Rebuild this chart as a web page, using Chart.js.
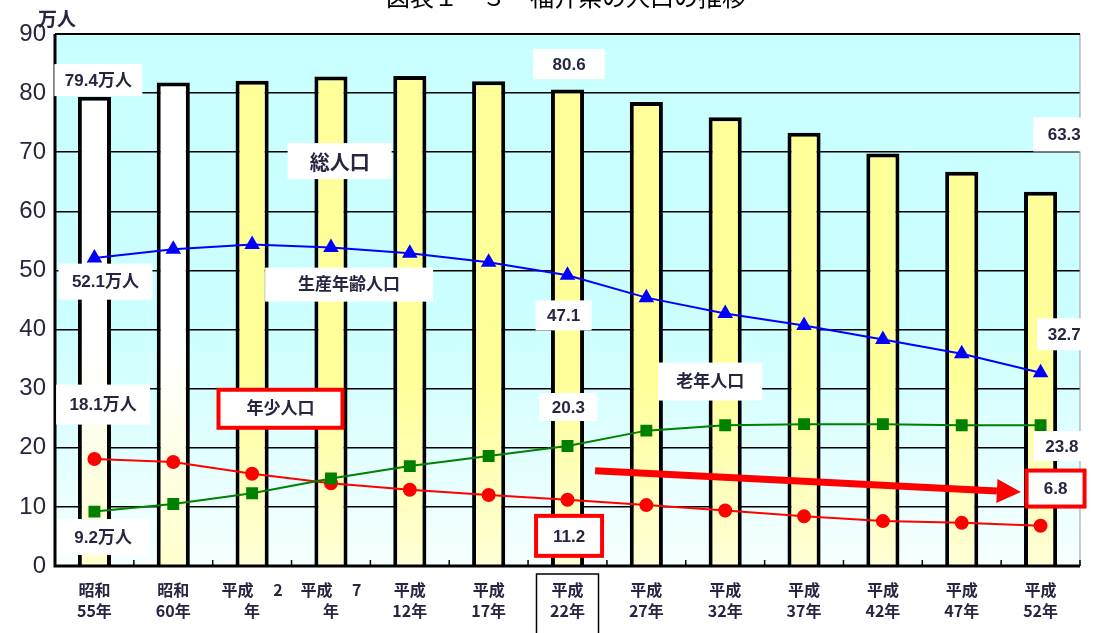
<!DOCTYPE html>
<html>
<head>
<meta charset="utf-8">
<script src="https://cdn.jsdelivr.net/npm/chart.js@4"></script>
<style>
  body { margin: 0; background: #fff; }
  #wrap { width: 1094px; height: 633px; position: relative; }
</style>
</head>
<body>
<div id="wrap"><canvas id="popChart" width="1094" height="633"></canvas></div>
<script>
'use strict';

// Data ********** //
let years = [
  ['昭和', '55年'], ['昭和', '60年'], ['平成　 2', '年'], ['平成　 7', '年'],
  ['平成', '12年'], ['平成', '17年'], ['平成', '22年'], ['平成', '27年'],
  ['平成', '32年'], ['平成', '37年'], ['平成', '42年'], ['平成', '47年'], ['平成', '52年']
];
let totalPop = [79.4, 81.8, 82.1, 82.8, 82.9, 82.0, 80.6, 78.5, 75.9, 73.3, 69.8, 66.7, 63.3];
let workingPop = [52.1, 53.6, 54.4, 53.9, 52.9, 51.4, 49.2, 45.4, 42.7, 40.7, 38.3, 35.9, 32.7];
let elderlyPop = [9.2, 10.5, 12.3, 14.8, 16.9, 18.6, 20.3, 22.9, 23.8, 24.0, 24.0, 23.8, 23.8];
let childPop = [18.1, 17.6, 15.6, 14.0, 12.9, 12.0, 11.2, 10.3, 9.4, 8.4, 7.6, 7.3, 6.8];
let yTicks = [0, 10, 20, 30, 40, 50, 60, 70, 80, 90];

// text boxes: category index (fractional) + value position
let notes = [
  { text: '79.4万人', x: 0.05, y: 82.2, w: 88, h: 32 },
  { text: '80.6', x: 6.02, y: 84.9, w: 72, h: 30 },
  { text: '63.3', x: 12.3, y: 73.0, w: 62, h: 34 },
  { text: '総人口', x: 3.11, y: 68.5, w: 104, h: 36, big: true },
  { text: '52.1万人', x: 0.14, y: 48.1, w: 94, h: 36 },
  { text: '生産年齢人口', x: 3.23, y: 47.6, w: 168, h: 34 },
  { text: '47.1', x: 5.95, y: 42.4, w: 56, h: 30 },
  { text: '32.7', x: 12.3, y: 39.2, w: 54, h: 32 },
  { text: '老年人口', x: 7.81, y: 31.2, w: 104, h: 38 },
  { text: '18.1万人', x: 0.11, y: 27.3, w: 94, h: 40 },
  { text: '年少人口', x: 2.36, y: 26.6, w: 124, h: 38, red: true },
  { text: '20.3', x: 6.01, y: 26.9, w: 58, h: 28 },
  { text: '23.8', x: 12.27, y: 20.3, w: 56, h: 30 },
  { text: '6.8', x: 12.19, y: 13.1, w: 58, h: 36, red: true },
  { text: '9.2万人', x: 0.11, y: 4.9, w: 92, h: 36 },
  { text: '11.2', x: 6.02, y: 5.1, w: 66, h: 40, red: true }
];
let arrowFrom = { x: 6.35, y: 16.1 };
let arrowTo = { x: 11.75, y: 12.5 };

let ctx = document.getElementById('popChart');

// Helpers ********** //
function barFill(context) {
  let chart = context.chart;
  let area = chart.chartArea;
  if (!area) return '#ffff99';
  let g = chart.ctx.createLinearGradient(0, area.top, 0, area.bottom);
  if (context.dataIndex < 2) {
    g.addColorStop(0, '#ffffff');
    g.addColorStop(0.6, '#ffffff');
    g.addColorStop(1, '#ffffcc');
  } else {
    g.addColorStop(0, '#ffff99');
    g.addColorStop(0.65, '#ffff99');
    g.addColorStop(1, '#ffffd6');
  }
  return g;
}

let backgroundPlugin = {
  id: 'plotBg',
  beforeDraw(chart) {
    let c = chart.ctx;
    let a = chart.chartArea;
    let g = c.createLinearGradient(0, a.top, 0, a.bottom);
    g.addColorStop(0, '#c8ffff');
    g.addColorStop(0.55, '#ccffff');
    g.addColorStop(1, '#f6ffff');
    c.save();
    c.fillStyle = g;
    c.fillRect(a.left, a.top, a.right - a.left, a.bottom - a.top);
    c.restore();
  },
  afterDraw(chart) {
    let c = chart.ctx;
    let a = chart.chartArea;
    let xs = chart.scales.x;
    let ys = chart.scales.y;
    c.save();
    // frame
    c.strokeStyle = '#999';
    c.lineWidth = 1;
    c.beginPath();
    c.moveTo(a.right, a.top);
    c.lineTo(a.right, a.bottom);
    c.stroke();
    c.strokeStyle = '#000';
    c.lineWidth = 2;
    c.beginPath();
    c.moveTo(a.left, a.top);
    c.lineTo(a.right, a.top);
    c.stroke();
    c.lineWidth = 3;
    c.beginPath();
    c.moveTo(a.left, a.top);
    c.lineTo(a.left, a.bottom);
    c.lineTo(a.right, a.bottom);
    c.stroke();
    // inward ticks between categories
    c.lineWidth = 1.5;
    let step = xs.getPixelForValue(1) - xs.getPixelForValue(0);
    for (let i = 0; i <= years.length; i++) {
      let px = xs.getPixelForValue(i) - step / 2;
      c.beginPath();
      c.moveTo(px, a.bottom);
      c.lineTo(px, a.bottom - 6);
      c.stroke();
    }

    // text boxes
    for (let n of notes) {
      let px = xs.getPixelForValue(n.x);
      let py = ys.getPixelForValue(n.y);
      c.fillStyle = '#ffffff';
      c.fillRect(px - n.w / 2, py - n.h / 2, n.w, n.h);
      if (n.red) {
        c.strokeStyle = '#ff0000';
        c.lineWidth = 4;
        c.strokeRect(px - n.w / 2, py - n.h / 2, n.w, n.h);
      }
      c.fillStyle = '#262640';
      c.font = n.big ? 'bold 20px "Noto Sans CJK JP"' : 'bold 17px "Liberation Sans", "Noto Sans CJK JP"';
      c.textAlign = 'center';
      c.textBaseline = 'middle';
      c.fillText(n.text, px, py + 1);
    }

    // red arrow
    let x1 = xs.getPixelForValue(arrowFrom.x);
    let y1 = ys.getPixelForValue(arrowFrom.y);
    let x2 = xs.getPixelForValue(arrowTo.x);
    let y2 = ys.getPixelForValue(arrowTo.y);
    let ang = Math.atan2(y2 - y1, x2 - x1);
    let headLen = 24;
    let bx = x2 - headLen * Math.cos(ang);
    let by = y2 - headLen * Math.sin(ang);
    c.strokeStyle = '#ff0000';
    c.fillStyle = '#ff0000';
    c.lineWidth = 7;
    c.beginPath();
    c.moveTo(x1, y1);
    c.lineTo(bx, by);
    c.stroke();
    c.beginPath();
    c.moveTo(x2, y2);
    c.lineTo(bx + 12 * Math.sin(ang), by - 12 * Math.cos(ang));
    c.lineTo(bx - 12 * Math.sin(ang), by + 12 * Math.cos(ang));
    c.closePath();
    c.fill();

    // box round the 平成22年 label
    let lx = xs.getPixelForValue(6);
    c.strokeStyle = '#000';
    c.lineWidth = 1.5;
    c.strokeRect(lx - 31, a.bottom + 8, 62, 70);

    // unit + title
    c.fillStyle = '#262640';
    c.font = 'bold 19px "Noto Sans CJK JP"';
    c.textAlign = 'left';
    c.textBaseline = 'alphabetic';
    c.fillText('万人', 38, 26);
    c.fillStyle = '#000';
    c.font = '24px "Noto Sans CJK JP"';
    c.textAlign = 'center';
    c.fillText('図表１－３　福井県の人口の推移', 566, 6);
    c.restore();
  }
};

let chartObj = {
  type: 'bar',
  data: {
    labels: years,
    datasets: [
      {
        type: 'line',
        label: '生産年齢人口',
        data: workingPop,
        borderColor: '#0000ff',
        backgroundColor: '#0000ff',
        borderWidth: 2,
        pointStyle: 'triangle',
        pointRadius: 7,
        order: 1
      },
      {
        type: 'line',
        label: '老年人口',
        data: elderlyPop,
        borderColor: '#008000',
        backgroundColor: '#008000',
        borderWidth: 2,
        pointStyle: 'rect',
        pointRadius: 7,
        order: 2
      },
      {
        type: 'line',
        label: '年少人口',
        data: childPop,
        borderColor: '#ff0000',
        backgroundColor: '#ff0000',
        borderWidth: 2,
        pointStyle: 'circle',
        pointRadius: 6,
        order: 3
      },
      {
        label: '総人口',
        data: totalPop,
        backgroundColor: barFill,
        borderColor: '#000',
        borderWidth: 4,
        categoryPercentage: 1,
        barPercentage: 0.42,
        order: 4
      }
    ]
  },
  options: {
    responsive: false,
    animation: false,
    layout: { padding: { left: 0, right: 14, top: 34, bottom: 0 } },
    plugins: { legend: { display: false }, tooltip: { enabled: false } },
    scales: {
      x: {
        grid: { display: false },
        border: { display: false },
        ticks: {
          color: '#262640',
          font: { family: '"Noto Sans CJK JP"', size: 16, weight: 'bold', lineHeight: 1.35 },
          maxRotation: 0,
          autoSkip: false,
          padding: 5
        },
        afterFit(scale) { scale.height = 67; }
      },
      y: {
        min: 0,
        max: 90,
        afterBuildTicks(scale) { scale.ticks = yTicks.map(v => ({ value: v })); },
        grid: { color: '#000', lineWidth: 1.5, drawTicks: false },
        border: { display: false },
        ticks: {
          color: '#262640',
          font: { family: '"Liberation Sans"', size: 24 },
          padding: 9
        },
        afterFit(scale) { scale.width = 55; }
      }
    }
  },
  plugins: [backgroundPlugin]
};

new Chart(ctx, chartObj);
</script>
</body>
</html>
